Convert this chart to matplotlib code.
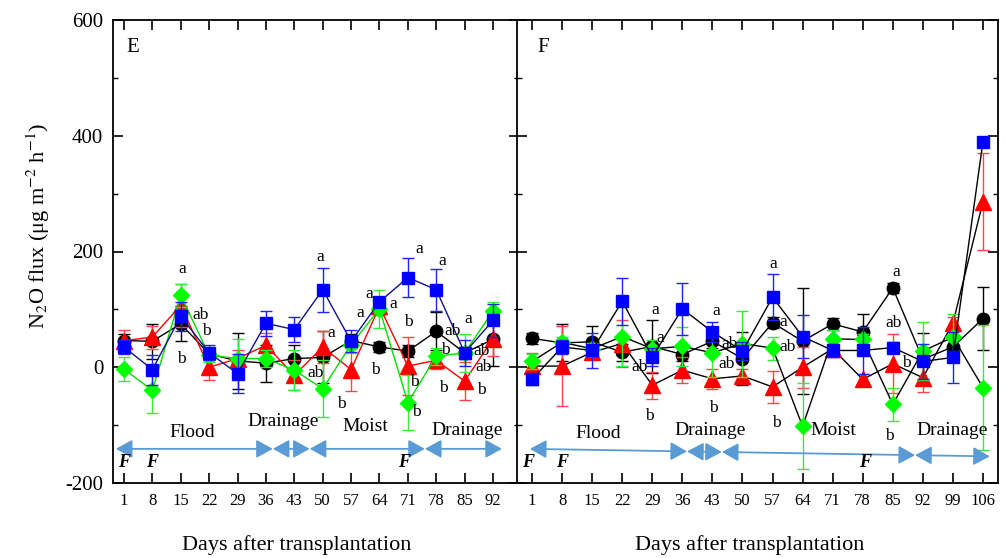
import matplotlib
matplotlib.use('Agg')
import matplotlib.pyplot as plt

plt.rcParams['font.family'] = ['Liberation Serif', 'DejaVu Serif']
plt.rcParams['mathtext.fontset'] = 'stix'

# Panel E data (days after transplantation)
days_e = [1, 8, 15, 22, 29, 36, 43, 50, 57, 64, 71, 78, 85, 92]
e_black = [46, 45, 75, 23, 11, 7, 15, 17, 46, 35, 28, 62, 25, 48]
e_black_err = [12, 30, 30, 10, 48, 32, 23, 45, 12, 8, 10, 33, 10, 46]
e_red = [46, 52, 107, 0, 15, 38, -14, 35, -4, 105, 2, 12, -24, 49]
e_red_err = [18, 20, 37, 22, 15, 22, 26, 27, 37, 15, 50, 15, 33, 30]
e_green = [-3, -40, 124, 21, 15, 15, -5, -37, 39, 101, -61, 19, 25, 97]
e_green_err = [21, 39, 20, 12, 33, 15, 35, 49, 15, 33, 47, 15, 33, 15]
e_blue = [35, -4, 88, 25, -11, 76, 65, 134, 45, 113, 155, 134, 25, 81]
e_blue_err = [12, 26, 25, 13, 34, 22, 22, 38, 19, 9, 33, 36, 22, 28]

# Panel F data
days_f = [1, 8, 15, 22, 29, 36, 43, 50, 57, 64, 71, 78, 85, 92, 99, 106]
f_black = [50, 42, 44, 26, 36, 22, 45, 15, 77, 45, 75, 61, 137, 14, 35, 84]
f_black_err = [10, 32, 28, 15, 46, 12, 12, 46, 10, 92, 10, 31, 8, 45, 12, 54]
f_red = [2, 2, 26, 41, -31, -5, -20, -15, -34, 0, 32, -21, 6, -18, 76, 286]
f_red_err = [23, 69, 10, 40, 23, 22, 17, 12, 28, 35, 15, 10, 51, 24, 10, 84]
f_green = [10, 43, 32, 53, 32, 36, 25, 41, 33, -102, 49, 48, -64, 28, 52, -35]
f_green_err = [13, 10, 10, 51, 15, 33, 42, 57, 20, 74, 15, 10, 29, 50, 40, 108]
f_blue = [-21, 35, 29, 114, 18, 101, 61, 28, 121, 53, 29, 29, 34, 10, 17, 390]
f_blue_err = [10, 12, 30, 41, 15, 45, 17, 15, 40, 37, 12, 40, 10, 30, 44, 0]

# significance letters (text, day, value)
e_letters = ['a', 'ab', 'b', 'b', 'a', 'a', 'ab', 'b', 'a', 'a', 'a', 'b',
             'a', 'b', 'b', 'b', 'a', 'ab', 'b', 'b', 'a', 'ab', 'ab', 'b']
e_letter_x = [15.3, 19.9, 21.4, 15.2, 49.5, 52.2, 48.3, 54.7, 61.4, 59.2, 67.4, 63.1,
              73.7, 71.1, 72.7, 73.1, 79.5, 82.0, 80.3, 79.7, 86.0, 89.2, 89.6, 89.2]
e_letter_y = [169, 90, 63, 15, 191, 59, -10, -63, 127, 94, 109, -4,
              205, 78, -25, -77, 183, 62, 30, -36, 84, 28, 0, -40]
f_letters = ['a', 'a', 'ab', 'b', 'a', 'ab', 'ab', 'b', 'a', 'a', 'ab', 'b',
             'a', 'ab', 'b', 'b']
f_letter_x = [29.8, 30.9, 26.1, 28.4, 43.8, 47.1, 46.2, 43.2, 57.2, 59.5, 60.5, 57.8,
              85.9, 85.1, 88.2, 84.2]
f_letter_y = [99, 51, 0, -84, 98, 41, 6, -70, 178, 78, 35, -97,
              164, 76, 7, -119]

phases = ['Flood', 'Drainage', 'Moist', 'Drainage']
e_phase_x = [17.8, 40.2, 60.6, 85.5]
e_phase_y = [-112, -94, -103, -109]
e_phase_edges = [-1, 37.7, 46.8, 75.2, 94.2]
f_phase_x = [16.4, 42.4, 71.1, 98.7]
f_phase_y = [-114, -109, -109, -109]
f_phase_edges = [0.5, 37.1, 45.2, 90.2, 107.6]
e_fert = [1, 8, 70]
f_fert = [0, 8, 78.5]

fig = plt.figure(figsize=(10.05, 5.58), dpi=100)
ax1 = fig.add_axes([113/1005, 1 - 483/558, 406/1005, 463/558])
ax2 = fig.add_axes([517/1005, 1 - 483/558, 481/1005, 463/558])

arrow_col = '#5b9bd5'
styles = [  # marker, marker colour, errorbar colour, line colour (panel E), size
    ('o', 'black', 'black', 'black', 9),
    ('^', '#ff0000', '#ff4444', '#ff0000', 11),
    ('D', '#00ff00', '#33ee33', '#00dd00', 8),
    ('s', '#0000ff', '#2020ff', '#101090', 8.5),
]


def draw_series(ax, days, series, errs, black_lines):
    for (mk, mc, ec, lc, ms), y, err in zip(styles, series, errs):
        ax.errorbar(days, y, yerr=err, fmt='none', ecolor=ec, elinewidth=1,
                    capsize=4.5, capthick=1)
        ax.plot(days, y, '-', color='black' if black_lines else lc, lw=1,
                marker=mk, ms=ms, mfc=mc, mec=mc)


draw_series(ax1, days_e, [e_black, e_red, e_green, e_blue],
            [e_black_err, e_red_err, e_green_err, e_blue_err], False)
draw_series(ax2, days_f, [f_black, f_red, f_green, f_blue],
            [f_black_err, f_red_err, f_green_err, f_blue_err], True)

for t, x, y in zip(e_letters, e_letter_x, e_letter_y):
    ax1.text(x, y, t, fontsize=12.5, ha='center', va='center')
for t, x, y in zip(f_letters, f_letter_x, f_letter_y):
    ax2.text(x, y, t, fontsize=12.5, ha='center', va='center')


def draw_phases(ax, px, py, edges, y0, y1, fert):
    for t, x, y in zip(phases, px, py):
        ax.text(x, y, t, fontsize=14, ha='center', va='center')
    span = edges[-1] - edges[0]
    for a, b in zip(edges[:-1], edges[1:]):
        ya = y0 + (y1 - y0) * (a - edges[0]) / span
        yb = y0 + (y1 - y0) * (b - edges[0]) / span
        ax.annotate('', xy=(b, yb), xytext=(a, ya),
                    arrowprops=dict(arrowstyle='<|-|>,head_length=1.0,head_width=0.55',
                                    color=arrow_col, lw=1.3, shrinkA=0, shrinkB=0,
                                    mutation_scale=10))
    for x in fert:
        ax.text(x, -164, 'F', fontsize=13, fontweight='bold', fontstyle='italic',
                ha='center', va='center')


draw_phases(ax1, e_phase_x, e_phase_y, e_phase_edges, -141, -141, e_fert)
draw_phases(ax2, f_phase_x, f_phase_y, f_phase_edges, -141, -154, f_fert)

ax1.set_xlim(-1.7, 98.4)
ax2.set_xlim(-2.5, 109.5)
for ax, days in [(ax1, days_e), (ax2, days_f)]:
    ax.set_ylim(-200, 600)
    ax.set_xticks(days)
    ax.set_xticklabels([str(d) for d in days], fontsize=12)
    ax.set_yticks([-200, 0, 200, 400, 600])
    ax.set_yticks([-100, 100, 300, 500], minor=True)
    ax.tick_params(axis='both', which='major', direction='in', length=7, width=1.2,
                   top=True, right=True)
    ax.tick_params(axis='y', which='minor', direction='in', length=3.5, width=1,
                   right=True)
    ax.tick_params(axis='x', which='major', pad=7)
    for s in ax.spines.values():
        s.set_linewidth(1.3)

ax1.set_yticklabels(['-200', '0', '200', '400', '600'], fontsize=15)
ax1.tick_params(axis='y', pad=7)
ax2.tick_params(axis='y', labelleft=False)

ax1.text(0.049, 0.94, 'E', transform=ax1.transAxes, fontsize=15, ha='center', va='center')
ax2.text(0.054, 0.94, 'F', transform=ax2.transAxes, fontsize=15, ha='center', va='center')

fig.text(38/1005, 1 - 226/558, r'N$_2$O flux (μg m$^{-2}$ h$^{-1}$)', rotation=90,
         fontsize=16, ha='center', va='center')
fig.text(297/1005, 1 - 545/558, 'Days after transplantation', fontsize=16,
         ha='center', va='center')
fig.text(750/1005, 1 - 545/558, 'Days after transplantation', fontsize=16,
         ha='center', va='center')

fig.savefig('out.png', dpi=100)
